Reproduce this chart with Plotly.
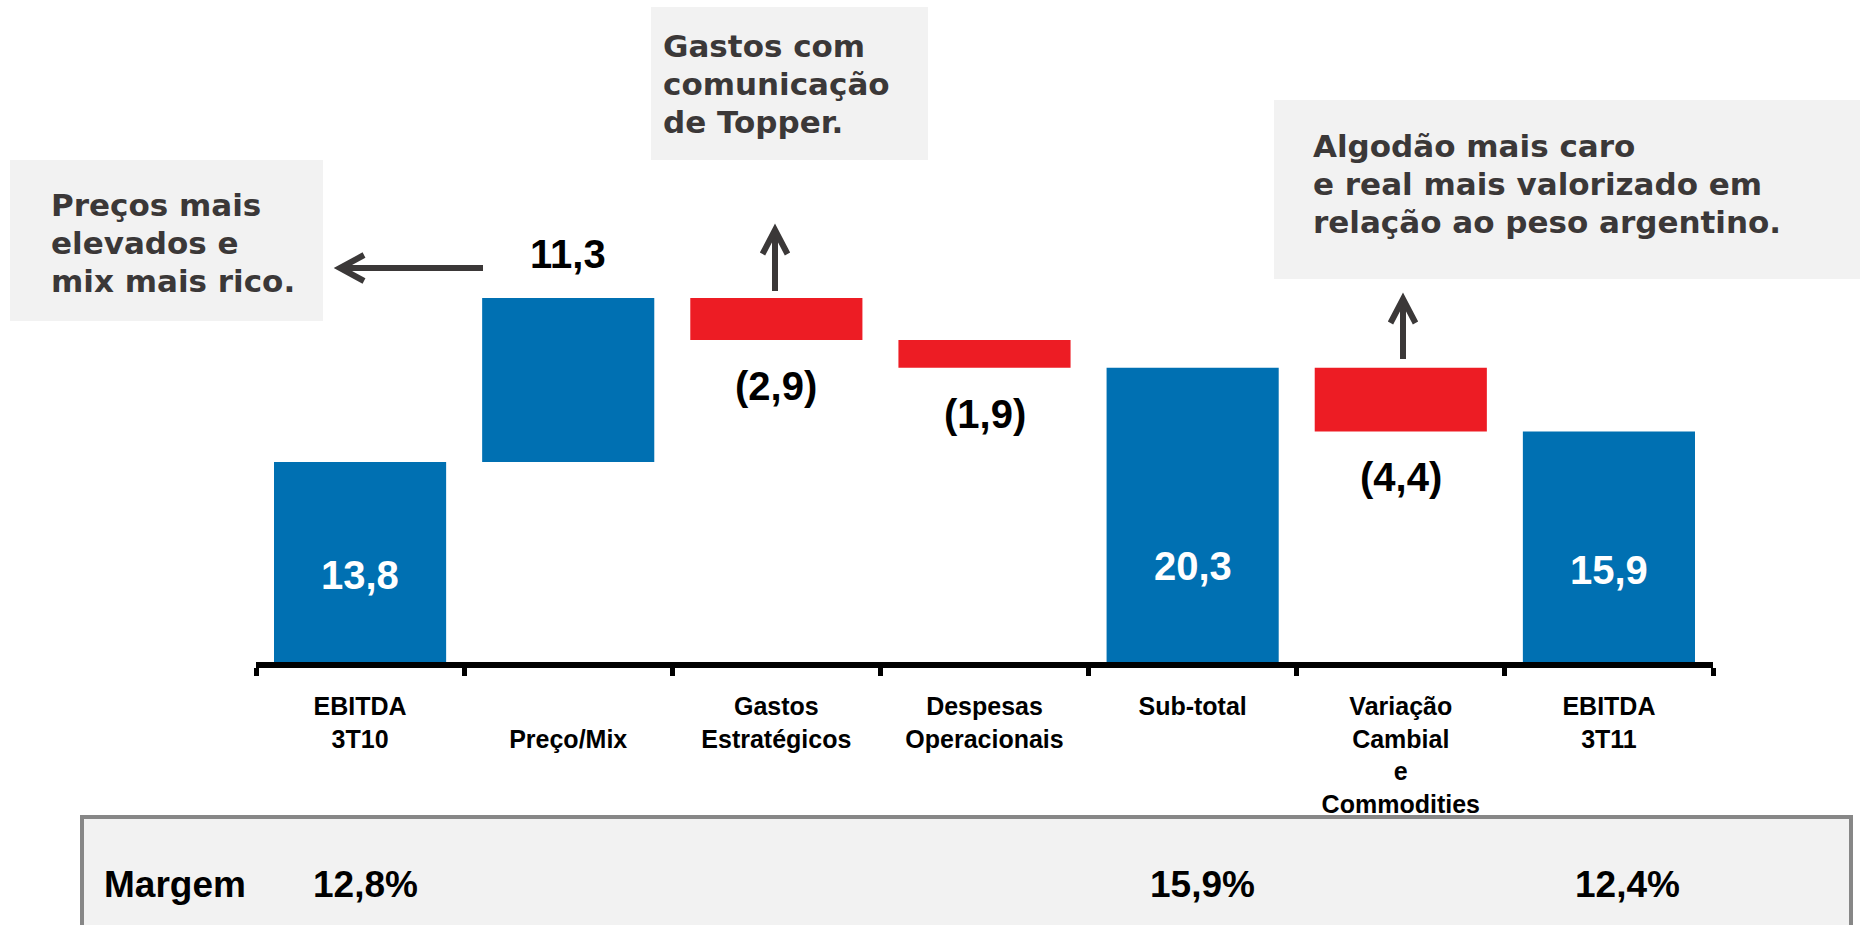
import plotly.graph_objects as go

# ---------------- data ----------------
categories = ["EBITDA 3T10", "Preço/Mix", "Gastos Estratégicos", "Despesas Operacionais",
              "Sub-total", "Variação Cambial e Commodities", "EBITDA 3T11"]
tick_labels = ["EBITDA<br>3T10", "<br>Preço/Mix", "Gastos<br>Estratégicos",
               "Despesas<br>Operacionais", "Sub-total",
               "Variação<br>Cambial<br>e<br>Commodities", "EBITDA<br>3T11"]
values = [13.8, 11.3, -2.9, -1.9, 20.3, -4.4, 15.9]
measures = ["absolute", "relative", "relative", "relative", "total", "relative", "total"]
margin_labels = ["12,8%", "", "", "", "15,9%", "", "12,4%"]
margin_title = "Margem"
callout_prices = ["Preços mais", "elevados e", "mix mais rico."]
callout_topper = ["Gastos com", "comunicação", "de Topper."]
callout_cotton = ["Algodão mais caro", "e real mais valorizado em", "relação ao peso argentino."]

# ---------------- style ----------------
BLUE = "#0070B2"
RED = "#ED1C24"
BOX = "#F2F2F2"
DARK = "#3B3838"
W, H = 1860, 925
L, R, T, B = 256, 1860 - 1713, 0, 925 - 662
PX_PER_UNIT = 14.5
ARIAL = "Liberation Sans, Arial, sans-serif"
VERD = "DejaVu Sans, Verdana, sans-serif"


def pxx(x):
    return (x - L) / (W - L - R)


def pyy(y):
    return (H - B - y) / (H - B - T)


def fmt(v):
    s = f"{abs(v):.1f}".replace(".", ",")
    return f"({s})" if v < 0 else s


fig = go.Figure(go.Waterfall(
    x=categories, y=values, measure=measures,
    width=0.827,
    increasing=dict(marker=dict(color=BLUE)),
    decreasing=dict(marker=dict(color=RED)),
    totals=dict(marker=dict(color=BLUE)),
    connector=dict(visible=False),
    textinfo="none", hoverinfo="skip",
))

# running ends for label placement
ends = []
run = 0.0
for v, m in zip(values, measures):
    if m == "absolute":
        run = v
    elif m == "relative":
        run = run + v
    ends.append(run)

ann = []
inside_shift = {0: 87, 4: 96, 6: 92}
for i, (v, m) in enumerate(zip(values, measures)):
    if m in ("absolute", "total"):
        ann.append(dict(x=categories[i], y=0, xref="x", yref="y", text=fmt(ends[i]),
                        yanchor="middle", yshift=inside_shift[i], showarrow=False,
                        font=dict(family=ARIAL, size=40, color="white", weight=700)))
    elif v > 0:
        ann.append(dict(x=categories[i], y=ends[i], xref="x", yref="y", text=fmt(v),
                        yanchor="middle", yshift=44, showarrow=False,
                        font=dict(family=ARIAL, size=40, color="black", weight=700)))
    else:
        ann.append(dict(x=categories[i], y=ends[i], xref="x", yref="y", text=fmt(v),
                        yanchor="middle", yshift=-46, showarrow=False,
                        font=dict(family=ARIAL, size=40, color="black", weight=700)))

# callout texts, one annotation per line
for lines, x, ys in [(callout_prices, 49, (205, 243, 281)),
                     (callout_topper, 661, (46, 84, 122)),
                     (callout_cotton, 1311, (146, 184, 222))]:
    for line, y in zip(lines, ys):
        ann.append(dict(x=pxx(x), y=pyy(y), xref="paper", yref="paper", text=line,
                        xanchor="left", yanchor="middle", align="left", showarrow=False,
                        font=dict(family=VERD, size=31, color=DARK, weight=700)))

# margin row
ann.append(dict(x=pxx(102), y=pyy(884), xref="paper", yref="paper", text=margin_title,
                xanchor="left", yanchor="middle", showarrow=False,
                font=dict(family=ARIAL, size=37, color="black", weight=700)))
m_shift = {0: 5, 4: 10, 6: 19}
for i, t in enumerate(margin_labels):
    if t:
        ann.append(dict(x=categories[i], y=pyy(884), xref="x", yref="paper", text=t,
                        xanchor="center", yanchor="middle", xshift=m_shift[i], showarrow=False,
                        font=dict(family=ARIAL, size=37, color="black", weight=700)))

shapes = []


def rect(x0, y0, x1, y1, fill, line=None, lw=0):
    shapes.append(dict(type="rect", xref="paper", yref="paper", layer="below",
                       x0=pxx(x0), x1=pxx(x1), y0=pyy(y0), y1=pyy(y1),
                       fillcolor=fill, line=dict(color=line or fill, width=lw)))


rect(10, 160, 323, 321, BOX)
rect(651, 7, 928, 160, BOX)
rect(1274, 100, 1870, 279, BOX)
rect(82, 817, 1851, 960, BOX, "#878787", 4)


def path(points):
    d = "M " + " L ".join(f"{pxx(x)},{pyy(y)}" for x, y in points)
    shapes.append(dict(type="path", xref="paper", yref="paper", path=d,
                       line=dict(color=DARK, width=6)))


# left arrow
path([(483, 268), (342, 268)])
path([(364, 255), (340, 268), (364, 281)])
# up arrows
for ax, ty, by in [(775, 230, 291), (1403, 299, 359)]:
    path([(ax, by), (ax, ty + 2)])
    path([(ax - 12.5, ty + 24), (ax, ty), (ax + 12.5, ty + 24)])

fig.update_layout(
    width=W, height=H, autosize=False,
    margin=dict(l=L, r=R, t=T, b=B, pad=0),
    paper_bgcolor="white", plot_bgcolor="rgba(0,0,0,0)",
    showlegend=False,
    annotations=ann, shapes=shapes,
    xaxis=dict(type="category", categoryorder="array", categoryarray=categories,
               range=[-0.5, 6.5], tickmode="array", tickvals=categories, ticktext=tick_labels,
               showline=True, linecolor="black", linewidth=6,
               ticks="outside", tickson="boundaries", ticklen=8, tickwidth=5, tickcolor="black",
               ticklabelstandoff=17,
               tickfont=dict(family=ARIAL, size=25, color="black", weight=700),
               showgrid=False, zeroline=False, fixedrange=True),
    yaxis=dict(range=[0, (H - B - T) / PX_PER_UNIT], visible=False, showgrid=False,
               zeroline=False, fixedrange=True),
)

fig.write_html("out.html", config={"displayModeBar": False},
               post_script="document.body.style.margin='0';document.body.style.overflow='hidden';")
